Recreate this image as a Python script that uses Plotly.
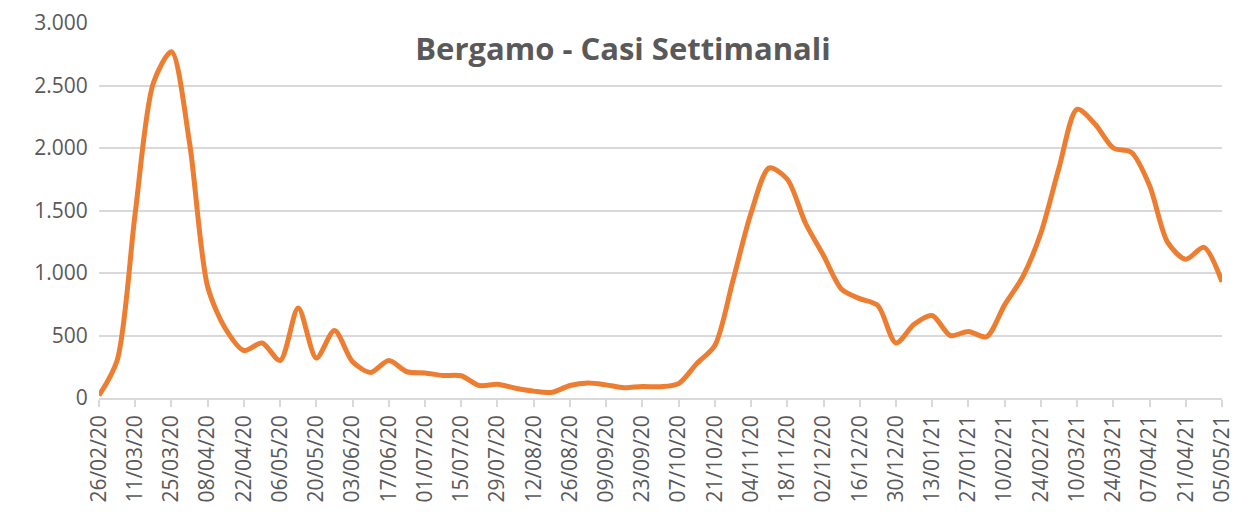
import plotly.graph_objects as go

title_text = "Bergamo - Casi Settimanali"

week_index = list(range(63))
cases = [20, 300, 1480, 2520, 2770, 2040, 890, 550, 380, 440,
         300, 720, 320, 540, 290, 205, 300, 210, 200, 180,
         178, 100, 110, 78, 55, 45, 100, 120, 105, 82,
         92, 90, 115, 275, 420, 940, 1480, 1840, 1750, 1400,
         1140, 870, 795, 740, 440, 590, 660, 500, 533, 490,
         745, 970, 1320, 1840, 2310, 2190, 2000, 1965, 1700, 1245,
         1110, 1205, 930]

x_tick_labels = ["26/02/20", "11/03/20", "25/03/20", "08/04/20", "22/04/20", "06/05/20",
                 "20/05/20", "03/06/20", "17/06/20", "01/07/20", "15/07/20", "29/07/20",
                 "12/08/20", "26/08/20", "09/09/20", "23/09/20", "07/10/20", "21/10/20",
                 "04/11/20", "18/11/20", "02/12/20", "16/12/20", "30/12/20", "13/01/21",
                 "27/01/21", "10/02/21", "24/02/21", "10/03/21", "24/03/21", "07/04/21",
                 "21/04/21", "05/05/21"]
x_tick_positions = week_index[::2]

y_tick_values = [0, 500, 1000, 1500, 2000, 2500, 3000]
y_tick_labels = ["0", "500", "1.000", "1.500", "2.000", "2.500", "3.000"]

font_family = "Open Sans"
text_color = "#595959"
grid_color = "#d9d9d9"

fig = go.Figure()
fig.add_trace(go.Scatter(
    x=week_index, y=cases, mode="lines",
    line=dict(color="#ED7D31", width=5, shape="spline", smoothing=0.8),
    showlegend=False, hoverinfo="skip"))

fig.update_layout(
    width=1246, height=514,
    margin=dict(l=99, r=24, t=23, b=116),
    paper_bgcolor="white", plot_bgcolor="white",
    font=dict(family=font_family, color=text_color, size=21),
    title=dict(text="<b>" + title_text + "</b>", x=0.5, xanchor="center",
               y=0.904, yanchor="middle",
               font=dict(family=font_family, size=31, color=text_color)),
)
fig.update_xaxes(
    range=[0, 62], tickmode="array", tickvals=x_tick_positions, ticktext=x_tick_labels,
    tickangle=-90, showgrid=False, zeroline=False, automargin=False,
    showline=True, linecolor=grid_color, linewidth=1.5,
    ticks="outside", ticklen=7, tickcolor=grid_color, tickwidth=1.5,
    tickfont=dict(family=font_family, size=21, color=text_color))
fig.update_yaxes(
    range=[0, 3000], tickmode="array", tickvals=y_tick_values, ticktext=y_tick_labels,
    showgrid=True, gridcolor=grid_color, gridwidth=1.5, zeroline=False, automargin=False,
    ticks="outside", ticklen=6, tickcolor="rgba(0,0,0,0)",
    tickfont=dict(family=font_family, size=21, color=text_color))

fig.write_html("out.html", config={"displayModeBar": False},
               post_script="document.body.style.margin='0';document.body.style.overflow='hidden';")
